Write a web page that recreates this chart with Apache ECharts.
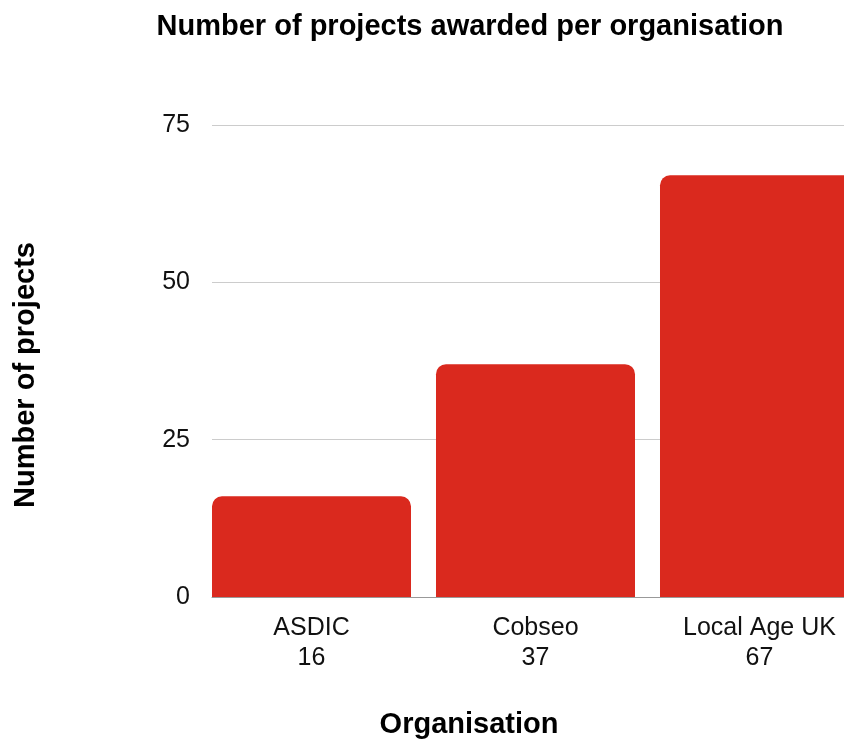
<!DOCTYPE html>
<html>
<head>
<meta charset="utf-8">
<script src="https://cdn.jsdelivr.net/npm/echarts@6/dist/echarts.min.js"></script>
<style>
html,body{margin:0;padding:0;background:#fff;overflow:hidden;width:844px;height:740px;}
#chart{width:884px;height:740px;}
</style>
</head>
<body>
<div id="chart"></div>
<script>
const categories = ['ASDIC', 'Cobseo', 'Local Age UK'];
const values = [16, 37, 67];
const yTicks = [0, 25, 50, 75];

const chart = echarts.init(document.getElementById('chart'));
const font = '"Liberation Sans", Arial, sans-serif';
const yMin = yTicks[0], yMax = yTicks[yTicks.length - 1];
chart.setOption({
  animation: false,
  textStyle: { fontFamily: font },
  title: [
    {
      text: 'Number of projects awarded per organisation',
      left: 465, top: 7, textAlign: 'center',
      textStyle: { fontFamily: font, fontSize: 29, fontWeight: 'bold', color: '#000' }
    },
    {
      text: 'Organisation',
      left: 464, top: 705, textAlign: 'center',
      textStyle: { fontFamily: font, fontSize: 29, fontWeight: 'bold', color: '#000' }
    }
  ],
  grid: [
    { left: 212, right: 0, top: 125, height: 472, containLabel: false },
    { left: 199.5, width: 672, top: 125, height: 472, containLabel: false }
  ],
  xAxis: [
    {
      gridIndex: 0, type: 'value', min: 0, max: 1,
      axisLine: { show: true, lineStyle: { color: '#999', width: 1 } },
      axisTick: { show: false }, axisLabel: { show: false }, splitLine: { show: false }
    },
    {
      gridIndex: 1, type: 'category', data: categories,
      axisLine: { show: false },
      axisTick: { show: false },
      axisLabel: {
        color: '#111', fontSize: 25, lineHeight: 30, margin: 16, fontFamily: font,
        formatter: (v, i) => v + '\n' + values[i]
      }
    }
  ],
  yAxis: [
    {
      gridIndex: 0, type: 'value',
      min: yMin, max: yMax, interval: 25,
      name: 'Number of projects',
      nameLocation: 'middle',
      nameGap: 172,
      nameTextStyle: { fontFamily: font, fontSize: 29, fontWeight: 'bold', color: '#000', padding: [0, 28, 0, 0] },
      axisLine: { show: false },
      axisTick: { show: false },
      splitLine: { lineStyle: { color: '#ccc', width: 1 } },
      axisLabel: { color: '#111', fontSize: 25, margin: 22, fontFamily: font }
    },
    {
      gridIndex: 1, type: 'value', min: yMin, max: yMax, interval: 25, show: false,
      splitLine: { show: false }
    }
  ],
  series: [{
    type: 'bar',
    xAxisIndex: 1, yAxisIndex: 1,
    data: values,
    barCategoryGap: '11.16%',
    itemStyle: { color: '#da291e', borderRadius: [10, 10, 0, 0] }
  }]
});
</script>
</body>
</html>
